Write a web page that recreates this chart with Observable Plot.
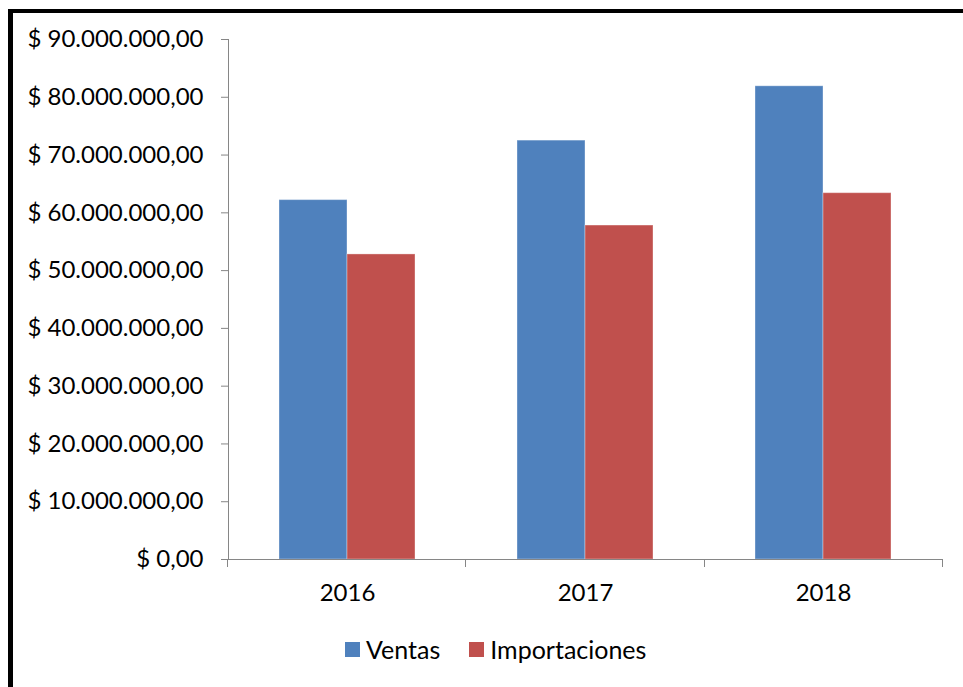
<!DOCTYPE html>
<html><head><meta charset="utf-8">
<script src="https://cdn.jsdelivr.net/npm/d3@7"></script>
<script src="https://cdn.jsdelivr.net/npm/@observablehq/plot@0.6"></script>
<style>
html,body{margin:0;padding:0;background:#fff;width:963px;height:687px;overflow:hidden;}
#frame{position:absolute;left:8px;top:9px;width:950px;height:700px;border-top:4px solid #000;border-left:5px solid #000;box-sizing:content-box;}
#chart svg text{fill:#000;}
#legend{position:absolute;left:345px;top:635px;display:flex;align-items:center;font-family:Lato,"Open Sans",sans-serif;font-size:25px;color:#000;line-height:28px;}
#legend .item{display:flex;align-items:center;margin-right:29px;}
#legend .sw{width:15px;height:15px;margin-right:6px;}
</style>
</head><body>
<div id="frame"><div id="chart"></div></div>
<div id="legend"></div>
<script>
const years = ["2016", "2017", "2018"];
const series = ["Ventas", "Importaciones"];
const colors = ["#4F81BD", "#C0504D"];
const ventas = [62200000, 72500000, 81900000];
const importaciones = [52800000, 57800000, 63400000];
const yTicks = [0, 10000000, 20000000, 30000000, 40000000, 50000000, 60000000, 70000000, 80000000, 90000000];

const data = [];
years.forEach((yr, i) => {
  data.push({year: yr, series: series[0], value: ventas[i]});
  data.push({year: yr, series: series[1], value: importaciones[i]});
});

const locale = d3.formatLocale({decimal: ",", thousands: ".", grouping: [3], currency: ["$ ", ""]});
const fmt = locale.format("$,.2f");

const chart = Plot.plot({
  width: 950,
  height: 602,
  marginLeft: 214,
  marginRight: 21,
  marginTop: 26,
  marginBottom: 56,
  style: {fontFamily: "Lato, 'Open Sans', sans-serif", fontSize: "24px", color: "#868686", background: "transparent", overflow: "visible"},
  fx: {domain: years, padding: 0, label: null, axis: "bottom", tickSize: 0, tickPadding: 24},
  x: {domain: series, paddingInner: 0, paddingOuter: 0.75, axis: null},
  y: {domain: [0, 90000000], ticks: yTicks, tickFormat: fmt, tickSize: 7, tickPadding: 18, label: null, line: true},
  color: {domain: series, range: colors},
  marks: [
    Plot.barY(data, {fx: "year", x: "series", y: "value", fill: "series", stroke: "#ffffff", strokeOpacity: 0.35, strokeWidth: 1}),
    Plot.ruleY([0], {stroke: "#868686"})
  ]
});
document.getElementById("chart").appendChild(chart);

// boundary tick marks on the category axis
const svgEl = chart.tagName.toLowerCase() === "svg" ? chart : chart.querySelector("svg");
const svg = d3.select(svgEl);
let fxs = null, ys = null;
try { fxs = chart.scale("fx"); } catch (e) {}
try { ys = chart.scale("y"); } catch (e) {}
let bounds;
if (fxs && fxs.range) {
  const [r0, r1] = fxs.range;
  const step = (r1 - r0) / years.length;
  bounds = d3.range(years.length + 1).map(i => r0 + i * step);
} else {
  const r0 = 214, r1 = 950 - 21, step = (r1 - r0) / years.length;
  bounds = d3.range(years.length + 1).map(i => r0 + i * step);
}
const y0 = ys && ys.apply ? ys.apply(0) : 546;
svg.append("g").attr("stroke", "#868686").selectAll("line").data(bounds).join("line")
  .attr("x1", d => Math.round(d) + 0.5).attr("x2", d => Math.round(d) + 0.5)
  .attr("y1", y0).attr("y2", y0 + 8);

// legend
const lg = d3.select("#legend");
series.forEach((s, i) => {
  const it = lg.append("div").attr("class", "item");
  it.append("div").attr("class", "sw").style("background", colors[i]);
  it.append("span").text(s);
});
</script>
</body></html>
